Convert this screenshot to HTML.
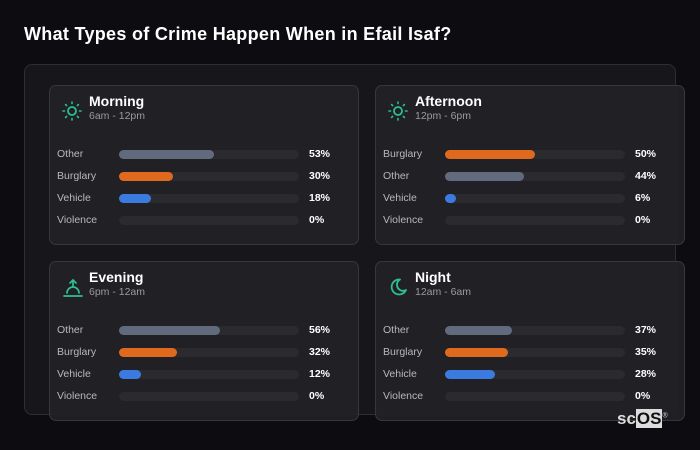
<!DOCTYPE html>
<html><head><meta charset="utf-8"><style>
*{margin:0;padding:0;box-sizing:border-box}
body{width:700px;height:450px;background:#0d0d11;font-family:"Liberation Sans",sans-serif;position:relative;overflow:hidden;color:#fff}
.t{position:absolute;left:24px;top:24px;font-size:18px;font-weight:bold;color:#fff;letter-spacing:0.3px}
.outer{position:absolute;left:24px;top:64px;width:652px;height:351px;border:1px solid #2e2e33;border-radius:8px;background:#17171b}
.card{position:absolute;width:310px;height:160px;border:1px solid #37373c;border-radius:7px;background:rgba(34,34,38,0.92)}
.h{position:absolute;left:39px;top:7px;font-size:14px;font-weight:bold}
.s{position:absolute;left:39px;top:24px;font-size:10.5px;color:#9a9aa0}
.ic{position:absolute;left:12px;top:15px}
.row{position:absolute;left:7px;height:12px;width:300px}
.l{position:absolute;left:0;top:0;font-size:10.5px;color:#b8b8bd}
.tr{position:absolute;left:62px;top:2px;width:180px;height:9px;border-radius:5px;background:#2a2a2f}
.f{height:9px;border-radius:5px}
.p{position:absolute;left:252px;top:0;font-size:10.5px;font-weight:bold;color:#fff}
.o{background:#626b7e}.b{background:#df6a1d}.v{background:#3b7be0}
.logo{position:absolute;left:617px;top:409px;font-size:17px;font-weight:bold;color:#ddd}
.logo span{background:#ddd;color:#111;padding:0 1px}
</style></head><body>
<div class="t">What Types of Crime Happen When in Efail Isaf?</div>
<div class="outer"></div>

<div class="card" style="left:49px;top:85px">
<svg class="ic" width="20" height="20" viewBox="0 0 20 20"><circle cx="10" cy="10" r="4" fill="none" stroke="#2fbf8f" stroke-width="1.8"/><g stroke="#2fbf8f" stroke-width="1.6" stroke-linecap="round"><path d="M10 1v1.5M10 17.5v1.5M1 10h1.5M17.5 10h1.5M3.6 3.6l1 1M15.4 15.4l1 1M3.6 16.4l1-1M15.4 4.6l1-1"/></g></svg>
<div class="h">Morning</div><div class="s">6am - 12pm</div>
<div class="row" style="top:62px"><div class="l">Other</div><div class="tr"><div class="f o" style="width:95px"></div></div><div class="p">53%</div></div>
<div class="row" style="top:84px"><div class="l">Burglary</div><div class="tr"><div class="f b" style="width:54px"></div></div><div class="p">30%</div></div>
<div class="row" style="top:106px"><div class="l">Vehicle</div><div class="tr"><div class="f v" style="width:32px"></div></div><div class="p">18%</div></div>
<div class="row" style="top:128px"><div class="l">Violence</div><div class="tr"></div><div class="p">0%</div></div>
</div>

<div class="card" style="left:375px;top:85px">
<svg class="ic" width="20" height="20" viewBox="0 0 20 20"><circle cx="10" cy="10" r="4" fill="none" stroke="#2fbf8f" stroke-width="1.8"/><g stroke="#2fbf8f" stroke-width="1.6" stroke-linecap="round"><path d="M10 1v1.5M10 17.5v1.5M1 10h1.5M17.5 10h1.5M3.6 3.6l1 1M15.4 15.4l1 1M3.6 16.4l1-1M15.4 4.6l1-1"/></g></svg>
<div class="h">Afternoon</div><div class="s">12pm - 6pm</div>
<div class="row" style="top:62px"><div class="l">Burglary</div><div class="tr"><div class="f b" style="width:90px"></div></div><div class="p">50%</div></div>
<div class="row" style="top:84px"><div class="l">Other</div><div class="tr"><div class="f o" style="width:79px"></div></div><div class="p">44%</div></div>
<div class="row" style="top:106px"><div class="l">Vehicle</div><div class="tr"><div class="f v" style="width:11px"></div></div><div class="p">6%</div></div>
<div class="row" style="top:128px"><div class="l">Violence</div><div class="tr"></div><div class="p">0%</div></div>
</div>

<div class="card" style="left:49px;top:261px">
<svg class="ic" width="22" height="22" viewBox="0 0 22 22"><g stroke="#2fbf8f" stroke-width="1.7" fill="none" stroke-linecap="round"><path d="M11 3v7M8 6l3-3 3 3M2 19h18M5 16a6 6 0 0 1 12 0"/></g></svg>
<div class="h">Evening</div><div class="s">6pm - 12am</div>
<div class="row" style="top:62px"><div class="l">Other</div><div class="tr"><div class="f o" style="width:101px"></div></div><div class="p">56%</div></div>
<div class="row" style="top:84px"><div class="l">Burglary</div><div class="tr"><div class="f b" style="width:58px"></div></div><div class="p">32%</div></div>
<div class="row" style="top:106px"><div class="l">Vehicle</div><div class="tr"><div class="f v" style="width:22px"></div></div><div class="p">12%</div></div>
<div class="row" style="top:128px"><div class="l">Violence</div><div class="tr"></div><div class="p">0%</div></div>
</div>

<div class="card" style="left:375px;top:261px">
<svg class="ic" width="20" height="20" viewBox="0 0 20 20"><path d="M12 2.5A7.5 7.5 0 1 0 18 13 6 6 0 0 1 12 2.5z" fill="none" stroke="#2fbf8f" stroke-width="1.8" stroke-linejoin="round"/></svg>
<div class="h">Night</div><div class="s">12am - 6am</div>
<div class="row" style="top:62px"><div class="l">Other</div><div class="tr"><div class="f o" style="width:67px"></div></div><div class="p">37%</div></div>
<div class="row" style="top:84px"><div class="l">Burglary</div><div class="tr"><div class="f b" style="width:63px"></div></div><div class="p">35%</div></div>
<div class="row" style="top:106px"><div class="l">Vehicle</div><div class="tr"><div class="f v" style="width:50px"></div></div><div class="p">28%</div></div>
<div class="row" style="top:128px"><div class="l">Violence</div><div class="tr"></div><div class="p">0%</div></div>
</div>
<div class="logo">sc<span>OS</span><sup style="font-size:7px;font-weight:normal">®</sup></div>
</body></html>
